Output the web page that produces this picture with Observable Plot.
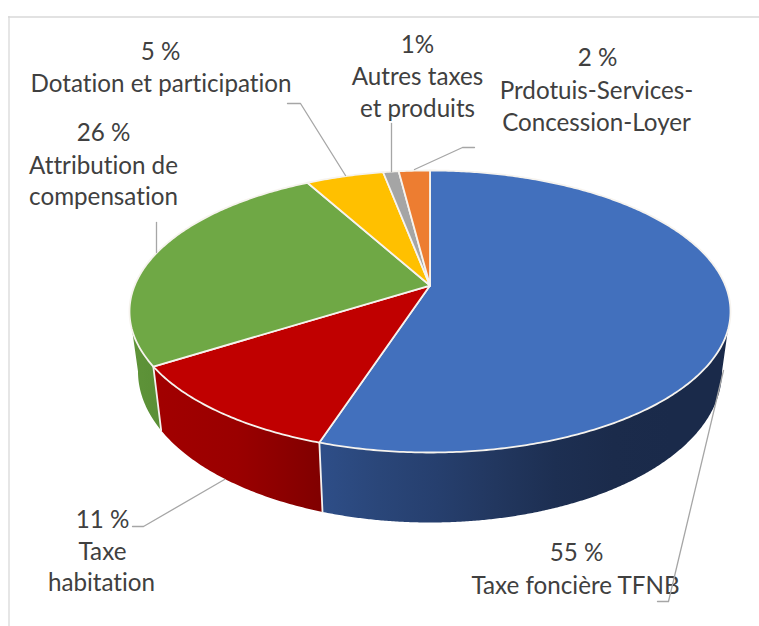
<!DOCTYPE html>
<html>
<head>
<meta charset="utf-8">
<script src="https://cdn.jsdelivr.net/npm/d3@7"></script>
<script src="https://cdn.jsdelivr.net/npm/@observablehq/plot@0.6"></script>
<style>html,body{margin:0;padding:0;background:#fff}svg{display:block}svg text{font-variant-ligatures:none}</style>
</head>
<body>
<div id="chart"></div>
<script>
// Data
const categories = ["Taxe foncière TFNB", "Taxe habitation", "Attribution de compensation", "Dotation et participation", "Autres taxes et produits", "Prdotuis-Services-Concession-Loyer"];
const values = [55, 11, 26, 5, 1, 2];
const topColors = ["#4270bd", "#c00000", "#6fa845", "#ffc000", "#a5a5a5", "#ed7d31"];
const labelRows = [
  ["5 %", 160, 59.5], ["Dotation et participation", 160.5, 91.5],
  ["26 %", 103, 140.5], ["Attribution de", 103, 173.5], ["compensation", 103, 204.5],
  ["1%", 417, 52.5], ["Autres taxes", 417, 84.5], ["et produits", 417, 116.5],
  ["2 %", 597, 65.5], ["Prdotuis-Services-", 596, 98.5], ["Concession-Loyer", 596, 130.5],
  ["11 %", 102, 527.5], ["Taxe", 102, 559.5], ["habitation", 101, 590.5],
  ["55 %", 576, 560.5], ["Taxe foncière TFNB", 575, 593.5]
];
const leaders = [
  [[287, 103], [300, 103], [345, 175]],
  [[156, 222], [156, 252]],
  [[391, 123], [391, 171]],
  [[474, 147], [462, 147], [414, 169]],
  [[132, 526], [143, 526], [224, 479]],
  [[657, 601], [668, 601], [723, 370]]
];
// Wall shading: [slice index, start x, end x, colours]
const wallShades = [
  [0, 320, 730, ["#2e4e88", "#2a4679", "#263f6e", "#22375f", "#1d2f52", "#1b2b4b", "#1a2a4a", "#1a2a4a"]],
  [1, 150, 322, ["#a20000", "#9a0000", "#800000"]],
  [2, 129, 160, ["#5f9439", "#5a8f36"]]
];

// Layout of the tilted pie
const W = 759, H = 626;
const topEllipse = {cx: 429.5, cy: 311, rx: 300.5, ry: 141};
const lowEllipse = {cx: 429.5, cy: 371, rx: 292, ry: 151};
const tilt = -0.184; // perspective shift of the pie centre

// A point at share f (0..1, clockwise from 12 o'clock) of the pie's rim
function rim(f, e) {
  const a = 2 * Math.PI * f, x = Math.sin(a), y = -Math.cos(a);
  const d = 1 + tilt * y;
  return [e.cx + e.rx * x * Math.sqrt(1 - tilt * tilt) / d, e.cy + e.ry * (y + tilt) / d];
}
const apex = [topEllipse.cx, topEllipse.cy + tilt * topEllipse.ry];

const total = d3.sum(values);
const starts = d3.cumsum([0, ...values]).map(v => v / total);
// shares at which the rim reaches its right and left extremes
const sideR = Math.acos(tilt) / (2 * Math.PI), sideL = 1 - sideR;

const faces = [], walls = [], edges = [], leaderPts = [];
values.forEach((v, i) => {
  const f0 = starts[i], f1 = starts[i + 1];
  const n = Math.max(8, Math.round(v * 6));
  faces.push({k: i, c: topColors[i], p: apex});
  for (let j = 0; j <= n; j++) faces.push({k: i, c: topColors[i], p: rim(f0 + (f1 - f0) * j / n, topEllipse)});
  faces.push({k: i, c: topColors[i], p: apex});
  // only the part of the rim that faces the viewer gets a wall
  const a = Math.max(f0, sideR), b = Math.min(f1, sideL);
  if (a < b) {
    const c = `url(#wall${i})`;
    for (let j = 0; j <= n; j++) walls.push({k: i, c, p: rim(a + (b - a) * j / n, topEllipse)});
    for (let j = n; j >= 0; j--) walls.push({k: i, c, p: rim(a + (b - a) * j / n, lowEllipse)});
    walls.push({k: i, c, p: rim(a, topEllipse)});
  }
});
[starts[1], starts[2]].forEach((f, i) => {
  edges.push({k: i, p: rim(f, topEllipse)}, {k: i, p: rim(f, lowEllipse)});
});
leaders.forEach((l, i) => l.forEach(p => leaderPts.push({k: i, p})));
const rows = labelRows.map(([t, x, y]) => ({t, x, y}));

function defs() {
  const d = d3.create("svg:defs");
  wallShades.forEach(([i, x1, x2, cols]) => {
    const g = d.append("linearGradient").attr("id", `wall${i}`).attr("gradientUnits", "userSpaceOnUse")
      .attr("x1", x1).attr("x2", x2).attr("y1", 0).attr("y2", 0);
    cols.forEach((c, j) => g.append("stop").attr("offset", j / (cols.length - 1)).attr("stop-color", c));
  });
  return d.node();
}

const fx = d => d.p[0], fy = d => d.p[1];
const chart = Plot.plot({
  width: W, height: H, margin: 0,
  x: {domain: [0, W], range: [0, W], axis: null},
  y: {domain: [0, H], range: [0, H], axis: null},
  color: {type: "identity"},
  style: {background: "#fff"},
  marks: [
    defs,
    Plot.ruleY([16.5], {x1: 8, x2: W, stroke: "#d9d9d9", strokeWidth: 1.3}),
    Plot.ruleX([8.5], {y1: 16, y2: H, stroke: "#d9d9d9", strokeWidth: 1.3}),
    Plot.line(walls, {x: fx, y: fy, z: "k", fill: "c", stroke: "none"}),
    Plot.line(edges, {x: fx, y: fy, z: "k", stroke: "#f4f1ee", strokeWidth: 1.8}),
    Plot.line(faces, {x: fx, y: fy, z: "k", fill: "c", stroke: "#f6f3ee", strokeWidth: 1.8, strokeLinejoin: "round"}),
    Plot.text(rows, {x: "x", y: "y", text: "t", textAnchor: "middle", lineAnchor: "bottom",
      fontFamily: "Lato", fontSize: 24.2, fill: "#404040"}),
    Plot.line(leaderPts, {x: fx, y: fy, z: "k", stroke: "#a6a6a6", strokeWidth: 1.3})
  ]
});
document.getElementById("chart").append(chart);
</script>
</body>
</html>
